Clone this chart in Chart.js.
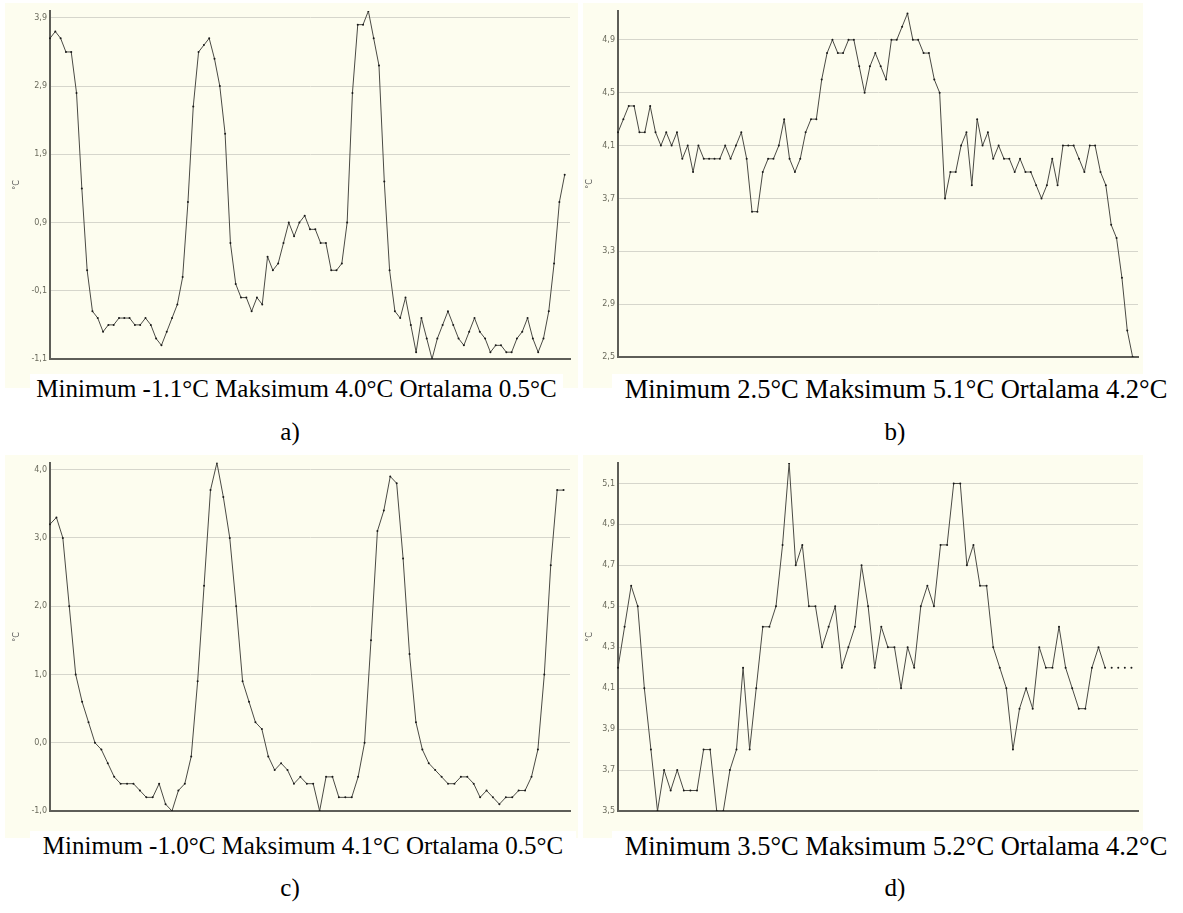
<!DOCTYPE html>
<html>
<head>
<meta charset="utf-8">
<script src="https://cdn.jsdelivr.net/npm/chart.js@4.4.0/dist/chart.umd.min.js"></script>
<style>
  body { margin: 0; background: #fff; width: 1183px; height: 913px; position: relative; overflow: hidden;
         font-family: "Liberation Serif", "Times New Roman", serif; }
  .panel { position: absolute; background: #fdfdef; }
  .panel canvas { position: absolute; left: 0; top: 0; }
  .cap { position: absolute; background: #fff; font-size: 25px; line-height: 30px; text-align: center; color: #000; white-space: nowrap; }
  .lbl { position: absolute; font-size: 25px; line-height: 30px; text-align: center; color: #000; }
</style>
</head>
<body>

<div class="panel" style="left:5px;top:3px;width:573px;height:385px"><canvas id="chart-a" width="573" height="385"></canvas></div>
<div class="panel" style="left:583px;top:3px;width:560px;height:385px"><canvas id="chart-b" width="560" height="385"></canvas></div>
<div class="panel" style="left:5px;top:455px;width:573px;height:383px"><canvas id="chart-c" width="573" height="383"></canvas></div>
<div class="panel" style="left:583px;top:455px;width:560px;height:383px"><canvas id="chart-d" width="560" height="383"></canvas></div>

<div class="cap" style="left:30px;top:374px;width:533px">Minimum -1.1°C Maksimum 4.0°C Ortalama 0.5°C</div>
<div class="lbl" style="left:30px;top:417px;width:520px">a)</div>
<div class="cap" style="left:612px;top:374px;width:568px;font-size:26.5px">Minimum 2.5°C Maksimum 5.1°C Ortalama 4.2°C</div>
<div class="lbl" style="left:612px;top:417px;width:566px">b)</div>
<div class="cap" style="left:30px;top:831px;width:546px">Minimum -1.0°C Maksimum 4.1°C Ortalama 0.5°C</div>
<div class="lbl" style="left:30px;top:873px;width:520px">c)</div>
<div class="cap" style="left:612px;top:831px;width:568px;font-size:26.5px">Minimum 3.5°C Maksimum 5.2°C Ortalama 4.2°C</div>
<div class="lbl" style="left:612px;top:873px;width:566px">d)</div>

<script>
// temperature readings (°C)
const aTemps = [3.6, 3.7, 3.6, 3.4, 3.4, 2.8, 1.4, 0.2, -0.4, -0.5, -0.7, -0.6, -0.6, -0.5, -0.5, -0.5, -0.6, -0.6, -0.5, -0.6,
    -0.8, -0.9, -0.7, -0.5, -0.3, 0.1, 1.2, 2.6, 3.4, 3.5, 3.6, 3.3, 2.9, 2.2, 0.6, 0.0, -0.2, -0.2, -0.4, -0.2,
    -0.3, 0.4, 0.2, 0.3, 0.6, 0.9, 0.7, 0.9, 1.0, 0.8, 0.8, 0.6, 0.6, 0.2, 0.2, 0.3, 0.9, 2.8,
    3.8, 3.8, 4.0, 3.6, 3.2, 1.5, 0.2, -0.4, -0.5, -0.2, -0.6, -1.0, -0.5, -0.8, -1.1, -0.8, -0.6, -0.4, -0.6, -0.8,
    -0.9, -0.7, -0.5, -0.7, -0.8, -1.0, -0.9, -0.9, -1.0, -1.0, -0.8, -0.7, -0.5, -0.8, -1.0, -0.8, -0.4, 0.3, 1.2, 1.6];
const bTemps = [4.2, 4.3, 4.4, 4.4, 4.2, 4.2, 4.4, 4.2, 4.1, 4.2, 4.1, 4.2, 4.0, 4.1, 3.9, 4.1, 4.0, 4.0, 4.0, 4.0,
    4.1, 4.0, 4.1, 4.2, 4.0, 3.6, 3.6, 3.9, 4.0, 4.0, 4.1, 4.3, 4.0, 3.9, 4.0, 4.2, 4.3, 4.3, 4.6, 4.8,
    4.9, 4.8, 4.8, 4.9, 4.9, 4.7, 4.5, 4.7, 4.8, 4.7, 4.6, 4.9, 4.9, 5.0, 5.1, 4.9, 4.9, 4.8, 4.8, 4.6,
    4.5, 3.7, 3.9, 3.9, 4.1, 4.2, 3.8, 4.3, 4.1, 4.2, 4.0, 4.1, 4.0, 4.0, 3.9, 4.0, 3.9, 3.9, 3.8, 3.7,
    3.8, 4.0, 3.8, 4.1, 4.1, 4.1, 4.0, 3.9, 4.1, 4.1, 3.9, 3.8, 3.5, 3.4, 3.1, 2.7, 2.5];
const cTemps = [3.2, 3.3, 3.0, 2.0, 1.0, 0.6, 0.3, 0.0, -0.1, -0.3, -0.5, -0.6, -0.6, -0.6, -0.7, -0.8, -0.8, -0.6, -0.9, -1.0,
    -0.7, -0.6, -0.2, 0.9, 2.3, 3.7, 4.1, 3.6, 3.0, 2.0, 0.9, 0.6, 0.3, 0.2, -0.2, -0.4, -0.3, -0.4, -0.6, -0.5,
    -0.6, -0.6, -1.0, -0.5, -0.5, -0.8, -0.8, -0.8, -0.5, 0.0, 1.5, 3.1, 3.4, 3.9, 3.8, 2.7, 1.3, 0.3, -0.1, -0.3,
    -0.4, -0.5, -0.6, -0.6, -0.5, -0.5, -0.6, -0.8, -0.7, -0.8, -0.9, -0.8, -0.8, -0.7, -0.7, -0.5, -0.1, 1.0, 2.6, 3.7, 3.7];
const dTemps = [4.2, 4.4, 4.6, 4.5, 4.1, 3.8, 3.5, 3.7, 3.6, 3.7, 3.6, 3.6, 3.6, 3.8, 3.8, 3.5, 3.5, 3.7, 3.8, 4.2,
    3.8, 4.1, 4.4, 4.4, 4.5, 4.8, 5.2, 4.7, 4.8, 4.5, 4.5, 4.3, 4.4, 4.5, 4.2, 4.3, 4.4, 4.7, 4.5, 4.2,
    4.4, 4.3, 4.3, 4.1, 4.3, 4.2, 4.5, 4.6, 4.5, 4.8, 4.8, 5.1, 5.1, 4.7, 4.8, 4.6, 4.6, 4.3, 4.2, 4.1,
    3.8, 4.0, 4.1, 4.0, 4.3, 4.2, 4.2, 4.4, 4.2, 4.1, 4.0, 4.0, 4.2, 4.3, 4.2, 4.2, 4.2, 4.2, 4.2];

// y tick labels of each panel
const aTicks = [-1.1, -0.1, 0.9, 1.9, 2.9, 3.9];
const bTicks = [2.5, 2.9, 3.3, 3.7, 4.1, 4.5, 4.9];
const cTicks = [-1.0, 0.0, 1.0, 2.0, 3.0, 4.0];
const dTicks = [3.5, 3.7, 3.9, 4.1, 4.3, 4.5, 4.7, 4.9, 5.1];

// in d the last readings have no connecting line
const dGapFrom = 74;

function makeLabels(vals) {
    // one spare slot so the last reading sits a little before the axis end
    const l = vals.map((v, i) => i);
    l.push(vals.length);
    return l;
}

function drawPanel(id, vals, ticks, yMin, yMax, axisW, titlePad, pad, gapFrom) {
    new Chart(document.getElementById(id), {
        type: 'line',
        data: {
            labels: makeLabels(vals),
            datasets: [{
                data: vals,
                borderColor: '#4a4a44',
                borderWidth: 1,
                tension: 0,
                pointRadius: 1,
                pointBorderWidth: 0,
                pointBackgroundColor: '#1a1a1a',
                segment: {
                    borderColor: ctx => (gapFrom !== undefined && ctx.p0DataIndex >= gapFrom) ? 'rgba(0,0,0,0)' : '#4a4a44'
                }
            }]
        },
        options: {
            responsive: false,
            animation: false,
            layout: { padding: pad },
            plugins: { legend: { display: false }, tooltip: { enabled: false } },
            scales: {
                x: {
                    type: 'category',
                    offset: false,
                    ticks: { display: false },
                    grid: { display: false },
                    border: { display: true, color: '#5e5e58', width: 2 },
                    afterFit: s => { s.height = 0; }
                },
                y: {
                    min: yMin,
                    max: yMax,
                    afterBuildTicks: s => { s.ticks = ticks.map(v => ({ value: v })); },
                    afterFit: s => { s.width = axisW; },
                    ticks: {
                        padding: 3,
                        color: '#6a6a5c',
                        font: { family: 'DejaVu Sans', size: 8 },
                        callback: v => Number(v).toFixed(1).replace('.', ',')
                    },
                    grid: { color: '#d6d6cc', lineWidth: 1, drawTicks: false },
                    border: { display: true, color: '#5e5e58', width: 2 },
                    title: {
                        display: true,
                        text: '°C',
                        color: '#555',
                        font: { family: 'DejaVu Sans', size: 8 },
                        padding: { top: titlePad, bottom: 0 }
                    }
                }
            }
        }
    });
}

drawPanel('chart-a', aTemps, aTicks, -1.1, 4.0, 45, 7, { top: 8, right: 8, bottom: 29, left: 0 });
drawPanel('chart-b', bTemps, bTicks, 2.5, 5.12, 35, 2, { top: 4, right: 5, bottom: 31, left: 0 });
drawPanel('chart-c', cTemps, cTicks, -1.0, 4.1, 45, 7, { top: 7, right: 8, bottom: 27, left: 0 });
drawPanel('chart-d', dTemps, dTicks, 3.5, 5.2, 35, 2, { top: 8, right: 5, bottom: 27, left: 0 }, dGapFrom);
</script>
</body>
</html>
